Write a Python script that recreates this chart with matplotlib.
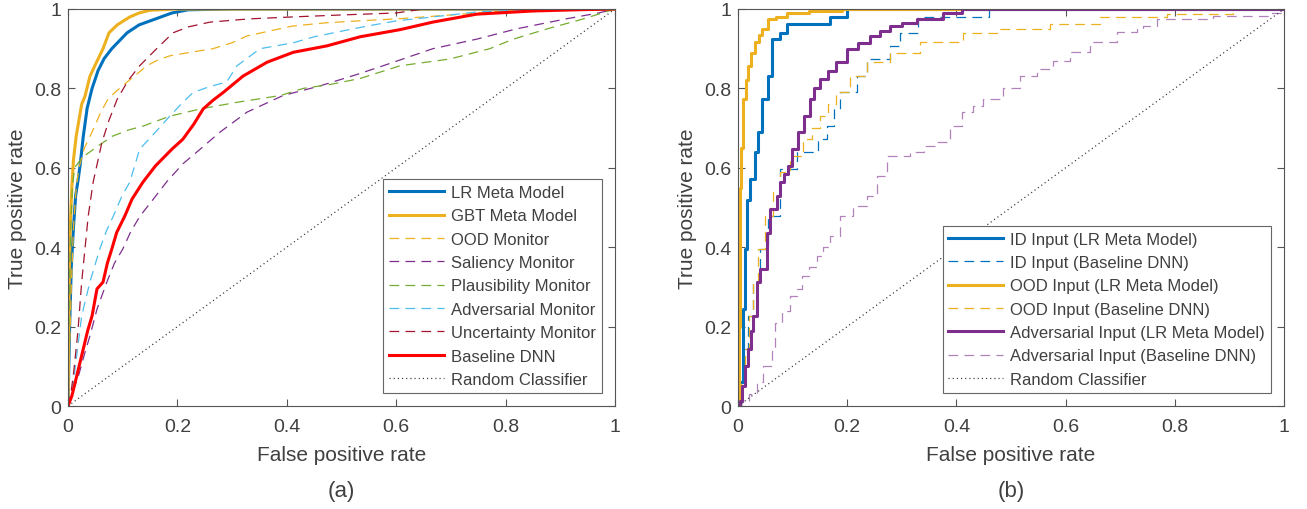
import numpy as np
import matplotlib
matplotlib.use('Agg')
import matplotlib.pyplot as plt

plt.rcParams['font.family'] = ['Liberation Sans', 'DejaVu Sans']
plt.rcParams['lines.scale_dashes'] = False

# ---- panel (a): monitors vs meta models ----
lr_fpr = [0, 0.003, 0.006, 0.01, 0.014, 0.018, 0.022, 0.028, 0.035, 0.044, 0.055, 0.066, 0.08, 0.094, 0.108, 0.13, 0.16, 0.19, 0.22, 0.3, 1.0]
lr_tpr = [0, 0.2, 0.35, 0.45, 0.53, 0.565, 0.605, 0.68, 0.75, 0.80, 0.845, 0.875, 0.90, 0.92, 0.94, 0.96, 0.975, 0.99, 0.998, 1.0, 1.0]

gbt_fpr = [0, 0.002, 0.004, 0.007, 0.01, 0.015, 0.02, 0.025, 0.031, 0.04, 0.049, 0.064, 0.075, 0.09, 0.113, 0.13, 0.15, 0.2, 1.0]
gbt_tpr = [0, 0.3, 0.45, 0.55, 0.62, 0.68, 0.72, 0.76, 0.78, 0.83, 0.857, 0.90, 0.94, 0.96, 0.98, 0.99, 0.997, 1.0, 1.0]

ood_fpr = [0, 0.003, 0.006, 0.01, 0.015, 0.02, 0.03, 0.044, 0.06, 0.073, 0.09, 0.108, 0.125, 0.144, 0.165, 0.186, 0.22, 0.265, 0.3, 0.327, 0.37, 0.41, 0.47, 0.53, 0.6, 0.7, 0.8, 0.9, 1.0]
ood_tpr = [0, 0.15, 0.3, 0.45, 0.55, 0.6, 0.65, 0.69, 0.74, 0.773, 0.795, 0.816, 0.835, 0.857, 0.872, 0.882, 0.89, 0.90, 0.915, 0.932, 0.945, 0.957, 0.965, 0.97, 0.975, 0.985, 0.995, 0.998, 1.0]

sal_fpr = [0, 0.01, 0.02, 0.03, 0.04, 0.053, 0.071, 0.085, 0.10, 0.115, 0.132, 0.156, 0.18, 0.21, 0.24, 0.278, 0.327, 0.393, 0.46, 0.528, 0.576, 0.667, 0.747, 0.82, 0.91, 0.97, 1.0]
sal_tpr = [0, 0.04, 0.08, 0.13, 0.176, 0.244, 0.312, 0.36, 0.395, 0.44, 0.479, 0.521, 0.564, 0.61, 0.645, 0.69, 0.74, 0.782, 0.806, 0.835, 0.857, 0.90, 0.924, 0.95, 0.975, 0.99, 1.0]

pl_fpr = [0, 0.002, 0.005, 0.008, 0.012, 0.02, 0.03, 0.04, 0.06, 0.082, 0.11, 0.137, 0.186, 0.241, 0.309, 0.388, 0.43, 0.48, 0.534, 0.607, 0.698, 0.771, 0.814, 0.876, 0.942, 1.0]
pl_tpr = [0, 0.25, 0.45, 0.55, 0.6, 0.615, 0.63, 0.64, 0.66, 0.68, 0.695, 0.705, 0.73, 0.748, 0.765, 0.782, 0.80, 0.81, 0.825, 0.857, 0.874, 0.90, 0.924, 0.95, 0.975, 1.0]

adv_fpr = [0, 0.005, 0.01, 0.018, 0.025, 0.04, 0.058, 0.07, 0.083, 0.099, 0.113, 0.131, 0.16, 0.186, 0.21, 0.229, 0.26, 0.29, 0.309, 0.351, 0.412, 0.45, 0.503, 0.547, 0.6, 0.667, 0.75, 0.85, 1.0]
adv_tpr = [0, 0.03, 0.06, 0.15, 0.227, 0.312, 0.395, 0.44, 0.479, 0.53, 0.564, 0.647, 0.69, 0.73, 0.765, 0.79, 0.805, 0.816, 0.857, 0.90, 0.915, 0.93, 0.945, 0.957, 0.97, 0.98, 0.993, 0.998, 1.0]

unc_fpr = [0, 0.005, 0.01, 0.018, 0.025, 0.037, 0.046, 0.055, 0.062, 0.075, 0.09, 0.11, 0.131, 0.162, 0.192, 0.22, 0.26, 0.33, 0.41, 0.5, 0.6, 0.65, 1.0]
unc_tpr = [0, 0.03, 0.08, 0.186, 0.312, 0.479, 0.564, 0.62, 0.664, 0.72, 0.773, 0.82, 0.857, 0.90, 0.94, 0.955, 0.967, 0.975, 0.98, 0.985, 0.99, 1.0, 1.0]

bl_fpr = [0, 0.007, 0.016, 0.028, 0.036, 0.044, 0.053, 0.064, 0.072, 0.08, 0.089, 0.104, 0.117, 0.137, 0.16, 0.19, 0.21, 0.23, 0.247, 0.265, 0.284, 0.32, 0.364, 0.412, 0.473, 0.534, 0.607, 0.667, 0.747, 0.85, 0.93, 1.0]
bl_tpr = [0, 0.025, 0.076, 0.144, 0.19, 0.227, 0.295, 0.312, 0.36, 0.395, 0.437, 0.479, 0.521, 0.564, 0.605, 0.647, 0.672, 0.71, 0.748, 0.77, 0.79, 0.831, 0.866, 0.891, 0.907, 0.93, 0.948, 0.967, 0.987, 0.995, 0.998, 1.0]

# ---- panel (b): per input type ----
idlr_fpr = [0, 0.004, 0.009, 0.013, 0.016, 0.022, 0.031, 0.037, 0.044, 0.055, 0.062, 0.077, 0.09, 0.168, 0.2, 1.0]
idlr_tpr = [0, 0.06, 0.244, 0.395, 0.52, 0.572, 0.64, 0.69, 0.773, 0.831, 0.924, 0.94, 0.962, 0.98, 1.0, 1.0]

idbl_fpr = [0, 0.006, 0.01, 0.019, 0.028, 0.04, 0.055, 0.077, 0.108, 0.147, 0.163, 0.175, 0.187, 0.218, 0.236, 0.278, 0.297, 0.33, 0.46, 1.0]
idbl_tpr = [0, 0.06, 0.144, 0.227, 0.312, 0.395, 0.479, 0.597, 0.64, 0.672, 0.705, 0.748, 0.79, 0.831, 0.874, 0.907, 0.94, 0.98, 1.0, 1.0]

oodlr_fpr = [0, 0.002, 0.003, 0.004, 0.006, 0.01, 0.014, 0.018, 0.024, 0.031, 0.038, 0.044, 0.055, 0.07, 0.09, 0.13, 0.19, 1.0]
oodlr_tpr = [0, 0.2, 0.4, 0.55, 0.65, 0.773, 0.82, 0.857, 0.89, 0.917, 0.935, 0.95, 0.975, 0.98, 0.99, 0.995, 1.0, 1.0]

oodbl_fpr = [0, 0.005, 0.012, 0.02, 0.028, 0.037, 0.05, 0.065, 0.077, 0.095, 0.119, 0.135, 0.15, 0.165, 0.18, 0.205, 0.236, 0.278, 0.333, 0.412, 0.48, 0.571, 0.663, 0.786, 0.907, 1.0]
oodbl_tpr = [0, 0.06, 0.144, 0.227, 0.312, 0.395, 0.479, 0.54, 0.59, 0.63, 0.672, 0.70, 0.73, 0.76, 0.79, 0.83, 0.866, 0.89, 0.917, 0.94, 0.95, 0.962, 0.98, 0.987, 1.0, 1.0]

advlr_fpr = [0, 0.004, 0.007, 0.013, 0.018, 0.023, 0.028, 0.034, 0.04, 0.053, 0.059, 0.071, 0.077, 0.085, 0.092, 0.099, 0.11, 0.12, 0.132, 0.14, 0.15, 0.165, 0.18, 0.2, 0.22, 0.242, 0.26, 0.278, 0.3, 0.328, 0.375, 0.41, 1.0]
advlr_tpr = [0, 0.012, 0.05, 0.1, 0.144, 0.19, 0.227, 0.312, 0.345, 0.437, 0.496, 0.529, 0.564, 0.585, 0.605, 0.647, 0.69, 0.73, 0.773, 0.80, 0.824, 0.845, 0.866, 0.90, 0.915, 0.932, 0.945, 0.957, 0.965, 0.975, 0.99, 1.0, 1.0]

advbl_fpr = [0, 0.006, 0.02, 0.034, 0.046, 0.062, 0.068, 0.08, 0.095, 0.108, 0.117, 0.13, 0.145, 0.155, 0.168, 0.187, 0.211, 0.236, 0.254, 0.273, 0.315, 0.34, 0.364, 0.388, 0.41, 0.43, 0.449, 0.485, 0.516, 0.547, 0.577, 0.608, 0.645, 0.694, 0.73, 0.742, 0.767, 0.87, 0.97, 1.0]
advbl_tpr = [0, 0.01, 0.03, 0.06, 0.1, 0.144, 0.21, 0.24, 0.277, 0.295, 0.328, 0.35, 0.378, 0.40, 0.428, 0.479, 0.504, 0.529, 0.58, 0.63, 0.64, 0.655, 0.664, 0.705, 0.74, 0.755, 0.773, 0.80, 0.831, 0.849, 0.869, 0.891, 0.917, 0.942, 0.95, 0.957, 0.975, 0.983, 0.99, 1.0]

rand_fpr = [0, 1]
rand_tpr = [0, 1]

BLUE = '#0072BD'
ORANGE = '#EDB120'
PURPLE = '#7E2F8E'
GREEN = '#77AC30'
CYAN = '#4DBEEE'
DARKRED = '#A2142F'
RED = '#FF0000'
TXT = '#404040'

thick = 2.2
thin = 0.9
dash = (7, 4.5)
dot = (0.8, 2.2)

fig = plt.figure(figsize=(13.07, 5.10), dpi=100)
ax1 = fig.add_axes([68 / 1307, 1 - 407 / 510, 547 / 1307, 397 / 510])
ax2 = fig.add_axes([738 / 1307, 1 - 407 / 510, 546 / 1307, 397 / 510])

ax1.plot(lr_fpr, lr_tpr, color=BLUE, lw=thick, label='LR Meta Model')
ax1.plot(gbt_fpr, gbt_tpr, color=ORANGE, lw=thick, label='GBT Meta Model')
ax1.plot(ood_fpr, ood_tpr, color=ORANGE, lw=thin, dashes=dash, label='OOD Monitor')
ax1.plot(sal_fpr, sal_tpr, color=PURPLE, lw=thin, dashes=dash, label='Saliency Monitor')
ax1.plot(pl_fpr, pl_tpr, color=GREEN, lw=thin, dashes=dash, label='Plausibility Monitor')
ax1.plot(adv_fpr, adv_tpr, color=CYAN, lw=thin, dashes=dash, label='Adversarial Monitor')
ax1.plot(unc_fpr, unc_tpr, color=DARKRED, lw=thin, dashes=dash, label='Uncertainty Monitor')
ax1.plot(bl_fpr, bl_tpr, color=RED, lw=thick, label='Baseline DNN')
ax1.plot(rand_fpr, rand_tpr, color='#333333', lw=0.9, dashes=dot, label='Random Classifier')

ax2.plot(idlr_fpr, idlr_tpr, color=BLUE, lw=thick, drawstyle='steps-post', label='ID Input (LR Meta Model)')
ax2.plot(idbl_fpr, idbl_tpr, color=BLUE, lw=thin, dashes=dash, drawstyle='steps-post', label='ID Input (Baseline DNN)')
ax2.plot(oodlr_fpr, oodlr_tpr, color=ORANGE, lw=thick, drawstyle='steps-post', label='OOD Input (LR Meta Model)')
ax2.plot(oodbl_fpr, oodbl_tpr, color=ORANGE, lw=thin, dashes=dash, drawstyle='steps-post', label='OOD Input (Baseline DNN)')
ax2.plot(advlr_fpr, advlr_tpr, color=PURPLE, lw=thick, drawstyle='steps-post', label='Adversarial Input (LR Meta Model)')
ax2.plot(advbl_fpr, advbl_tpr, color=PURPLE, lw=thin, dashes=dash, drawstyle='steps-post', alpha=0.6, label='Adversarial Input (Baseline DNN)')
ax2.plot(rand_fpr, rand_tpr, color='#333333', lw=0.9, dashes=dot, label='Random Classifier')

ticks = [0, 0.2, 0.4, 0.6, 0.8, 1]
ticklabels = ['0', '0.2', '0.4', '0.6', '0.8', '1']
for ax, cap in [(ax1, '(a)'), (ax2, '(b)')]:
    ax.set_xlim(0, 1)
    ax.set_ylim(0, 1)
    ax.set_xticks(ticks)
    ax.set_xticklabels(ticklabels)
    ax.set_yticks(ticks)
    ax.set_yticklabels(ticklabels)
    ax.tick_params(direction='in', length=5, width=0.8, colors='#555555',
                   labelcolor=TXT, labelsize=14, top=True, right=True)
    ax.tick_params(axis='x', pad=9)
    ax.tick_params(axis='y', pad=5)
    for s in ax.spines.values():
        s.set_color('#555555')
        s.set_linewidth(0.8)
    ax.set_xlabel('False positive rate', fontsize=15, color=TXT, labelpad=7)
    ax.set_ylabel('True positive rate', fontsize=15, color=TXT, labelpad=5)
    leg = ax.legend(loc='lower right', fontsize=12, handlelength=3.3, handletextpad=0.4,
                    labelspacing=0.5, borderaxespad=0.8, borderpad=0.35,
                    fancybox=False, framealpha=1, edgecolor='#666666')
    leg.get_frame().set_linewidth(0.8)
    for t in leg.get_texts():
        t.set_color(TXT)
    pos = ax.get_position()
    fig.text((pos.x0 + pos.x1) / 2, 1 - 492 / 510, cap, ha='center', va='center',
             fontsize=16, color=TXT)

fig.savefig('out.png', dpi=100)
